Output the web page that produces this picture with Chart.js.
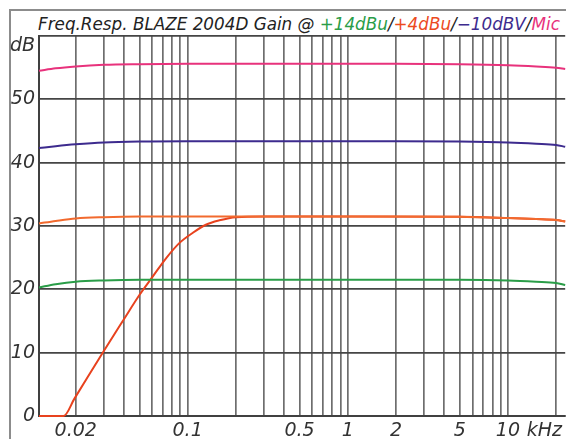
<!DOCTYPE html>
<html>
<head>
    <title>Freq.Resp. BLAZE 2004D Gain</title>
    <script src="https://cdn.jsdelivr.net/npm/chart.js"></script>
    <style>
        body { margin: 0; background: #fff; overflow: hidden; }
        #frame { position: absolute; left: 9px; top: 9px; width: 620px; height: 520px;
                 border-left: 2px solid #8c8c8c; border-top: 2px solid #8c8c8c; }
        #title { position: absolute; left: 38px; top: 14px; font: italic 16.8px "DejaVu Sans";
                 white-space: nowrap; color: #222; }
        #myChart { position: absolute; left: 0; top: 0; }
    </style>
</head>
<body>
    <div id="frame"></div>
    <div id="title">Freq.Resp. BLAZE 2004D Gain @ <span style="color:#2a9d48">+14dBu</span>/<span style="color:#ec4a1e">+4dBu</span>/<span style="color:#3d2b8e">&minus;10dBV</span>/<span style="color:#e8327c">Mic</span></div>
    <canvas id="myChart" width="566" height="439"></canvas>

    <script>
        // frequencies in kHz, levels in dB
        var freqMic = [0.0118, 0.015, 0.02, 0.03, 0.05, 0.1, 0.5, 1, 2, 5, 10, 15, 20, 22.8];
        var dbMic   = [54.5, 54.9, 55.2, 55.45, 55.55, 55.6, 55.6, 55.6, 55.6, 55.55, 55.4, 55.2, 55.0, 54.8];

        var freq10dBV = [0.0118, 0.015, 0.02, 0.03, 0.05, 0.1, 0.5, 1, 2, 5, 10, 15, 20, 22.8];
        var db10dBV   = [42.3, 42.6, 42.9, 43.2, 43.35, 43.4, 43.4, 43.4, 43.4, 43.35, 43.2, 43.0, 42.8, 42.5];

        var freq4dBu = [0.0118, 0.015, 0.02, 0.03, 0.05, 0.1, 0.5, 1, 2, 5, 10, 15, 20, 22.8];
        var db4dBu   = [30.4, 30.8, 31.2, 31.4, 31.5, 31.5, 31.5, 31.5, 31.5, 31.45, 31.25, 31.1, 30.95, 30.7];

        var freq14dBu = [0.0118, 0.015, 0.02, 0.03, 0.05, 0.1, 0.5, 1, 2, 5, 10, 15, 20, 22.8];
        var db14dBu   = [20.3, 20.8, 21.2, 21.4, 21.5, 21.5, 21.5, 21.5, 21.5, 21.5, 21.4, 21.2, 21.0, 20.7];

        // +4dBu trace with the low cut engaged
        var freqLowCut = [0.0118, 0.0168, 0.0196, 0.0295, 0.0403, 0.05, 0.0605, 0.0733, 0.0887, 0.1074, 0.13, 0.158, 0.2, 0.3, 1, 5, 10, 15, 20, 22.8];
        var dbLowCut   = [0, 0, 2.7, 10, 15.4, 19.1, 22.0, 24.9, 27.3, 28.9, 30.2, 30.9, 31.4, 31.5, 31.5, 31.45, 31.25, 31.1, 30.95, 30.7];

        var xGridLines = [0.02, 0.03, 0.04, 0.05, 0.06, 0.07, 0.08, 0.09,
                          0.1, 0.2, 0.3, 0.4, 0.5, 0.6, 0.7, 0.8, 0.9,
                          1, 2, 3, 4, 5, 6, 7, 8, 9, 10, 20];
        var xLabelValues = [0.02, 0.1, 0.5, 1, 2, 5, 10];
        var xLabelTexts  = ['0.02', '0.1', '0.5', '1', '2', '5', '10'];
        var xUnitPos = 16.9, xUnitText = 'kHz';

        var yGridLines = [0, 10, 20, 30, 40, 50, 60];
        var yLabelValues = [0, 10, 20, 30, 40, 50];
        var yUnitPos = 58.4, yUnitText = 'dB';

        function points(xs, ys) {
            return xs.map(function(x, i) { return {x: x, y: ys[i]}; });
        }
        function trace(data, color) {
            return { data: data, borderColor: color, borderWidth: 2, pointRadius: 0,
                     fill: false, clip: 4, cubicInterpolationMode: 'monotone' };
        }

        var tickFont = { family: 'DejaVu Sans', style: 'italic', size: 19 };
        var ctx = document.getElementById("myChart").getContext("2d");

        var chart = new Chart(ctx, {
            type: 'line',
            data: {
                datasets: [
                    trace(points(freq14dBu, db14dBu), '#2a9d48'),
                    trace(points(freq4dBu, db4dBu), '#f26a2e'),
                    trace(points(freqLowCut, dbLowCut), '#e8421e'),
                    trace(points(freq10dBV, db10dBV), '#3d2b8e'),
                    trace(points(freqMic, dbMic), '#e8327c')
                ]
            },
            options: {
                responsive: false,
                animation: false,
                layout: { padding: { top: 36, left: 0, right: 0, bottom: 0 } },
                plugins: { legend: { display: false }, tooltip: { enabled: false } },
                scales: {
                    x: {
                        type: 'logarithmic',
                        min: 0.0118,
                        max: 22.8,
                        afterBuildTicks: function(scale) {
                            scale.ticks = xGridLines.concat([xUnitPos]).map(function(v) { return {value: v}; });
                        },
                        afterFit: function(scale) { scale.height = 23; },
                        ticks: {
                            autoSkip: false,
                            maxRotation: 0,
                            padding: 4,
                            color: '#333',
                            font: tickFont,
                            callback: function(value) {
                                if (value === xUnitPos) return xUnitText;
                                var i = xLabelValues.indexOf(value);
                                return i >= 0 ? xLabelTexts[i] : '';
                            }
                        },
                        grid: {
                            drawTicks: false,
                            lineWidth: 1.7,
                            color: function(c) {
                                return c.tick && c.tick.value === xUnitPos ? 'rgba(0,0,0,0)' : '#6e6e6e';
                            }
                        },
                        border: { color: '#404040', width: 2 }
                    },
                    y: {
                        min: 0,
                        max: 60,
                        afterBuildTicks: function(scale) {
                            scale.ticks = yGridLines.concat([yUnitPos]).map(function(v) { return {value: v}; });
                        },
                        afterFit: function(scale) { scale.width = 39; },
                        ticks: {
                            padding: 4,
                            color: '#333',
                            font: tickFont,
                            callback: function(value) {
                                if (value === yUnitPos) return yUnitText;
                                return yLabelValues.indexOf(value) >= 0 ? String(value) : '';
                            }
                        },
                        grid: {
                            drawTicks: false,
                            lineWidth: 1.7,
                            color: function(c) {
                                return c.tick && c.tick.value === yUnitPos ? 'rgba(0,0,0,0)' : '#454545';
                            }
                        },
                        border: { color: '#404040', width: 2 }
                    }
                }
            }
        });
    </script>
</body>
</html>
